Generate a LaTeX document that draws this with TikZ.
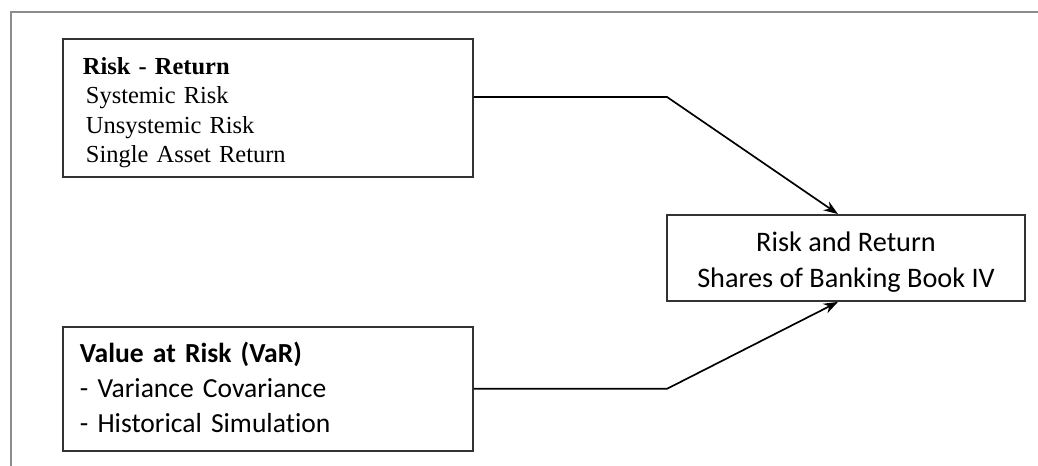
\documentclass[tikz,border=0pt]{standalone}
\usepackage{fontspec}
\setmainfont{Liberation Serif}
\newfontfamily\carlito[Ligatures=NoCommon]{Carlito}
\usepackage{xcolor}
\definecolor{boxline}{RGB}{50,50,50}
\definecolor{frameline}{RGB}{140,140,140}
\usepackage{tikz}
\usetikzlibrary{arrows.meta,positioning}

\begin{document}
\begin{tikzpicture}[
    x=0.025cm, y=-0.025cm,
    srcbox/.style={rectangle, draw=boxline, line width=1.3pt, anchor=north west, minimum width=10.25cm, align=left},
    mainbox/.style={rectangle, draw=boxline, line width=1.3pt, minimum width=8.95cm, minimum height=2.15cm, align=center, font=\carlito\fontsize{20.1pt}{24.9pt}\selectfont},
    arrow/.style={->, >={Stealth[length=0.36cm, width=0.26cm]}, line width=1.2pt, black}
]
\useasboundingbox (0,0) rectangle (1038,466);

% Frame
\draw[frameline, line width=0.8pt] (11,466) -- (11,12) -- (1038,12);

% Inputs
\node[srcbox, inner xsep=0.5cm, text width=9.25cm, minimum height=3.45cm, font=\fontsize{17.4pt}{21pt}\selectfont] (riskret) at (62,38) {\rule{0pt}{0.675cm}\textbf{Risk - Return}\\\hspace*{0.075cm}Systemic Risk\\\hspace*{0.075cm}Unsystemic Risk\\\hspace*{0.075cm}Single Asset Return\rule[-0.15cm]{0pt}{0.15cm}};
\node[srcbox, inner xsep=0.425cm, text width=9.4cm, minimum height=3.1cm, font=\carlito\fontsize{19.6pt}{24.9pt}\selectfont, below=3.7cm of riskret] (varrisk) {\rule{0pt}{0.625cm}\textbf{Value at Risk (VaR)}\\- Variance Covariance\\- Historical Simulation\rule[-0.2cm]{0pt}{0.2cm}};

% Result
\node[mainbox] (result) at (846,258) {\rule{0pt}{0.725cm}Risk and Return\\Shares of Banking Book IV\rule[-0.15cm]{0pt}{0.15cm}};

% Arrows
\draw[arrow] ([yshift=0.275cm]riskret.east) -- ++(193,0) -- ([xshift=-0.2cm]result.north);
\draw[arrow] (varrisk.east) -- ++(193,0) -- ([xshift=-0.2cm]result.south);
\end{tikzpicture}
\end{document}
